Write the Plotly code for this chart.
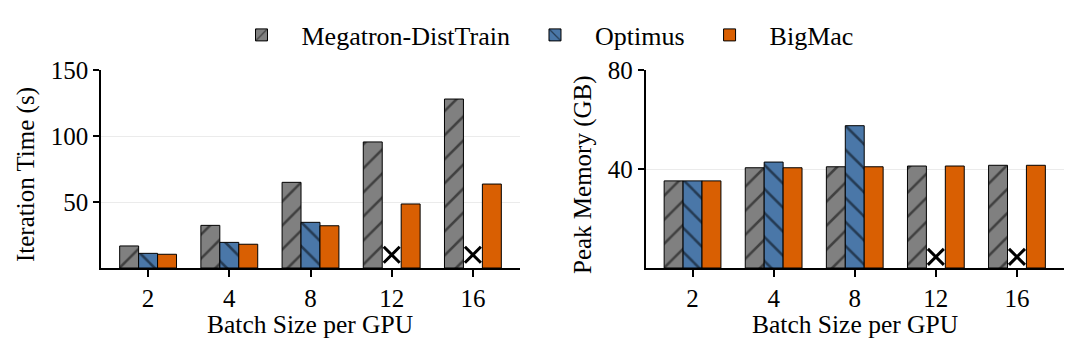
import plotly.graph_objects as go

batch_sizes = ["2", "4", "8", "12", "16"]

# Iteration time (s)
iter_megatron = [16.7, 32.3, 64.9, 95.5, 128.0]
iter_optimus = [11.1, 19.4, 34.6, None, None]
iter_bigmac = [10.4, 18.0, 32.0, 48.5, 63.6]

# Peak memory (GB)
mem_megatron = [35.2, 40.5, 40.9, 41.2, 41.5]
mem_optimus = [35.2, 42.8, 57.5, None, None]
mem_bigmac = [35.2, 40.5, 40.9, 41.2, 41.5]

# Failed (OOM) markers for Optimus
oom_categories = ["12", "16"]
oom_iter_y = [10.0, 10.0]
oom_mem_y = [4.5, 4.5]

series_names = ["Megatron-DistTrain", "Optimus", "BigMac"]
colors = ["#808080", "#4a77a8", "#d95f02"]
shapes = ["/", "\\", ""]

FONT = "Liberation Serif"
W, H = 1080, 354

fig = go.Figure()

def add_bars(vals_list, xa, ya, show):
    for name, vals, col, sh in zip(series_names, vals_list, colors, shapes):
        fig.add_trace(go.Bar(
            x=batch_sizes, y=vals, name=name, xaxis=xa, yaxis=ya,
            showlegend=show, legendgroup=name,
            marker=dict(
                color=col,
                line=dict(color="black", width=1),
                pattern=dict(shape=sh, fgcolor="black", bgcolor=col,
                             size=17, solidity=0.15),
            ),
            hoverinfo="skip",
        ))

add_bars([iter_megatron, iter_optimus, iter_bigmac], "x", "y", True)
add_bars([mem_megatron, mem_optimus, mem_bigmac], "x2", "y2", False)

fig.add_trace(go.Scatter(
    x=oom_categories, y=oom_iter_y, xaxis="x", yaxis="y", mode="markers",
    marker=dict(symbol="x-thin", size=16, line=dict(color="black", width=3)),
    showlegend=False, hoverinfo="skip"))
fig.add_trace(go.Scatter(
    x=oom_categories, y=oom_mem_y, xaxis="x2", yaxis="y2", mode="markers",
    marker=dict(symbol="x-thin", size=16, line=dict(color="black", width=3)),
    showlegend=False, hoverinfo="skip"))

ydom = [86 / H, 284 / H]
common_x = dict(
    type="category", categoryorder="array", categoryarray=batch_sizes,
    range=[-0.58, 4.58], showline=True, linecolor="black", linewidth=1.5,
    ticks="outside", ticklen=7, tickwidth=1.5, tickcolor="black",
    showgrid=False, zeroline=False, automargin=False,
    tickfont=dict(family=FONT, size=25, color="black"),
)
common_y = dict(
    showline=True, linecolor="black", linewidth=1.5,
    ticks="outside", ticklen=6, tickwidth=1.5, tickcolor="black",
    showgrid=True, gridcolor="#ebebeb", gridwidth=1, zeroline=False,
    automargin=False, domain=ydom,
    tickfont=dict(family=FONT, size=25, color="black"),
)

fig.update_layout(
    width=W, height=H,
    margin=dict(l=0, r=0, t=0, b=0),
    paper_bgcolor="white", plot_bgcolor="white",
    barmode="group", bargap=0.3, bargroupgap=0,
    font=dict(family=FONT, color="black"),
    xaxis=dict(common_x, domain=[101 / W, 520 / W], anchor="y"),
    yaxis=dict(common_y, range=[0, 150], tickvals=[50, 100, 150], anchor="x"),
    xaxis2=dict(common_x, domain=[645.5 / W, 1064 / W], anchor="y2"),
    yaxis2=dict(common_y, range=[0, 80], tickvals=[40, 80], anchor="x2"),
    legend=dict(
        orientation="h", x=0.5, xanchor="center", y=1 - 35 / H, yanchor="middle",
        font=dict(family=FONT, size=26, color="black"),
        bgcolor="rgba(0,0,0,0)", itemwidth=70,
    ),
    annotations=[
        dict(text="Iteration Time (s)", x=26 / W, y=1 - 175 / H, xref="paper", yref="paper",
             textangle=-90, showarrow=False, xanchor="center", yanchor="middle",
             font=dict(family=FONT, size=25, color="black")),
        dict(text="Peak Memory (GB)", x=583 / W, y=1 - 175 / H, xref="paper", yref="paper",
             textangle=-90, showarrow=False, xanchor="center", yanchor="middle",
             font=dict(family=FONT, size=25, color="black")),
        dict(text="Batch Size per GPU", x=309.5 / W, y=1 - 324 / H, xref="paper", yref="paper",
             showarrow=False, xanchor="center", yanchor="middle",
             font=dict(family=FONT, size=25.5, color="black")),
        dict(text="Batch Size per GPU", x=854.5 / W, y=1 - 324 / H, xref="paper", yref="paper",
             showarrow=False, xanchor="center", yanchor="middle",
             font=dict(family=FONT, size=25.5, color="black")),
    ],
)

fig.write_html("out.html", config=dict(displayModeBar=False))
